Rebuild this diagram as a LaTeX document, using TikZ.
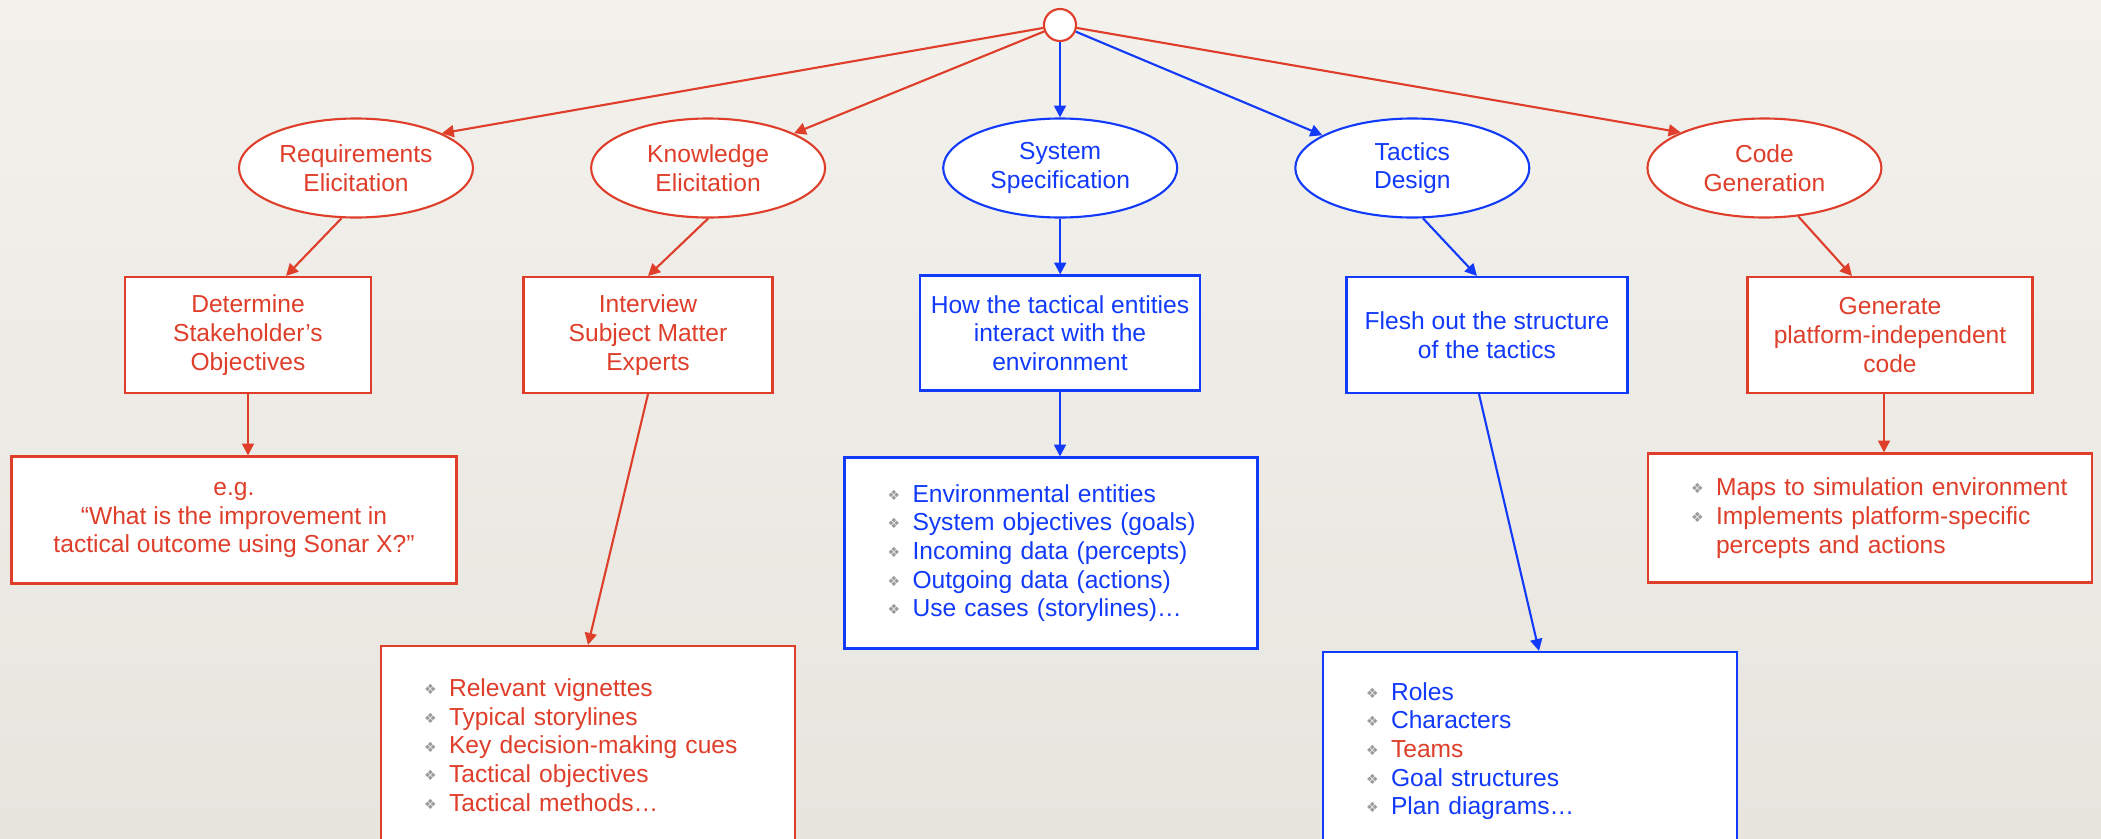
\documentclass[tikz,border=0pt]{standalone}
\usepackage{fontspec}
\setmainfont{Liberation Sans}
\newfontfamily\symfont{DejaVu Sans}
\usepackage{tikz}
\usetikzlibrary{arrows.meta,positioning,shapes.geometric,calc}
\definecolor{ElicitRed}{RGB}{222,62,42}
\definecolor{SpecBlue}{RGB}{18,58,250}
\definecolor{BulletGrey}{RGB}{155,155,155}
\definecolor{PaperTop}{RGB}{243,241,236}
\definecolor{PaperBot}{RGB}{232,229,223}
\newcommand{\itm}{\hspace*{4.3mm}\makebox[2.5mm][l]{\raisebox{0.5pt}{\color{BulletGrey}\symfont\fontsize{4}{4}\selectfont ❖}}}
\newcommand{\cont}{\hspace*{6.8mm}}

\begin{document}
\begin{tikzpicture}[
    x=0.1mm, y=-0.1mm,
    node distance=6mm and 11.6mm,
    redpart/.style={draw=ElicitRed, text=ElicitRed},
    bluepart/.style={draw=SpecBlue, text=SpecBlue},
    oval/.style={ellipse, draw, fill=white, line width=0.6pt, minimum width=23.4mm, minimum height=9.9mm, inner sep=0pt, align=center, font=\fontsize{7}{8.15}\selectfont},
    box/.style={draw, fill=white, line width=0.6pt, minimum height=11.6mm, inner sep=0pt, align=center, font=\fontsize{7}{8.15}\selectfont},
    list/.style={draw, fill=white, line width=0.6pt, inner sep=0pt, align=left, font=\fontsize{7}{8.15}\selectfont},
    arrow/.style={-{Triangle[length=3.4pt,width=3.4pt]}, line width=0.6pt}
]
    \useasboundingbox (0,0) rectangle (2101,839);
    \shade[top color=PaperTop, bottom color=PaperBot] (0,0) rectangle (2101,839);

    % top row
    \node[circle, draw=ElicitRed, fill=white, line width=0.6pt, minimum size=3.2mm, inner sep=0pt] (root) at (1060,25) {};
    \node[oval, redpart] (req) at (356,168) {Requirements\\Elicitation};
    \node[oval, redpart, right=of req] (know) {Knowledge\\Elicitation};
    \node[oval, bluepart, right=of know] (spec) {System\\Specification};
    \node[oval, bluepart, right=of spec] (tact) {Tactics\\Design};
    \node[oval, redpart, right=of tact] (code) {Code\\Generation};

    % second row
    \node[box, redpart, minimum width=24.6mm] (stake) at (248,335) {Determine\\Stakeholder’s\\Objectives};
    \node[box, redpart, minimum width=24.9mm] (sme) at (648,335) {Interview\\Subject Matter\\Experts};
    \node[box, bluepart, minimum width=28mm, minimum height=11.5mm] (inter) at (1060,333) {How the tactical entities\\interact with the\\environment};
    \node[box, bluepart, minimum width=28.1mm] (flesh) at (1487,335) {Flesh out the structure\\of the tactics};
    \node[box, redpart, minimum width=28.5mm] (gen) at (1890,335) {Generate\\platform-independent\\code};

    % third row
    \node[box, redpart, minimum width=44.5mm, minimum height=12.7mm] (query) at (234,520) {e.g.\\“What is the improvement in\\tactical outcome using Sonar X?”};
    \node[list, redpart, text width=41.4mm, minimum height=19.8mm] (cues) at (588,745) {\itm Relevant vignettes\\\itm Typical storylines\\\itm Key decision-making cues\\\itm Tactical objectives\\\itm Tactical methods…};
    \node[list, bluepart, text width=41.3mm, minimum height=19.1mm] (env) at (1051,553) {\itm Environmental entities\\\itm System objectives (goals)\\\itm Incoming data (percepts)\\\itm Outgoing data (actions)\\\itm Use cases (storylines)…};
    \node[list, bluepart, text width=41.4mm, minimum height=19.8mm] (roles) at (1530,751) {\itm Roles\\\itm Characters\\\itm {\color{ElicitRed}Teams}\\\itm Goal structures\\\itm Plan diagrams…};
    \node[list, redpart, text width=44.4mm, minimum height=12.9mm] (maps) at (1870,518) {\itm Maps to simulation environment\\\itm Implements platform-specific\\\cont percepts and actions};

    % root to phases
    \draw[arrow, ElicitRed] (root) -- (req.22);
    \draw[arrow, ElicitRed] (root) -- (know.22);
    \draw[arrow, SpecBlue] (root) -- (root |- spec.north);
    \draw[arrow, SpecBlue] (root) -- (tact.160);
    \draw[arrow, ElicitRed] (root) -- (code.157);

    % phases to activities
    \draw[arrow, ElicitRed] (req.-106) -- ([xshift=3.8mm]stake.north);
    \draw[arrow, ElicitRed] (know.south) -- (sme.north);
    \draw[arrow, SpecBlue] (spec) -- (spec |- inter.north);
    \draw[arrow, SpecBlue] (tact.-78) -- ([xshift=-1mm]flesh.north);
    \draw[arrow, ElicitRed] (code.-55) -- ([xshift=-3.8mm]gen.north);

    % activities to outputs
    \draw[arrow, ElicitRed] (stake) -- (stake |- query.north);
    \draw[arrow, ElicitRed] (sme.south) -- (cues.north);
    \draw[arrow, SpecBlue] (inter) -- (inter |- env.north);
    \draw[arrow, SpecBlue] ([xshift=-0.8mm]flesh.south) -- ([xshift=0.9mm]roles.north);
    \draw[arrow, ElicitRed] ([xshift=-0.6mm]gen.south) -- ([xshift=-0.6mm]gen.south |- maps.north);
\end{tikzpicture}
\end{document}
